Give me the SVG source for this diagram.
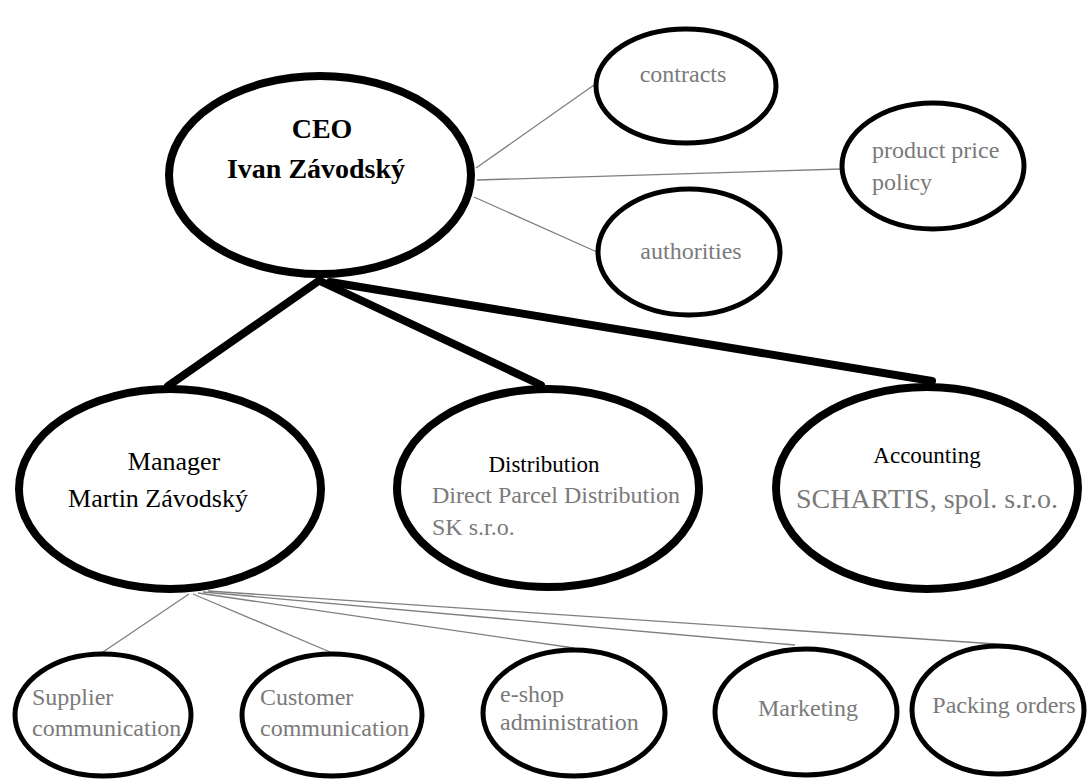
<svg xmlns="http://www.w3.org/2000/svg" width="1088" height="781" viewBox="0 0 1088 781">
<style>
.big{fill:#fff;stroke:#000;stroke-width:8}
.small{fill:#fff;stroke:#000;stroke-width:5}
.thin{stroke:#7f7f7f;stroke-width:1.3;fill:none}
.thick{stroke:#000;stroke-width:8;fill:none;stroke-linecap:round}
text{font-family:"Liberation Serif","Times New Roman",serif}
.g{fill:#7a7a7a;font-size:24px}
.k{fill:#000}
</style>
<rect width="1088" height="781" fill="#fff"/>
<g id="connectors">
<line class="thin" x1="476" y1="168" x2="594" y2="85"/>
<line class="thin" x1="477" y1="180" x2="841" y2="169"/>
<line class="thin" x1="474" y1="197" x2="597" y2="252"/>
<line class="thick" x1="320" y1="280" x2="168" y2="386"/>
<line class="thick" x1="322" y1="282" x2="541" y2="385"/>
<line class="thick" x1="330" y1="282" x2="932" y2="381"/>
<line class="thin" x1="189" y1="594" x2="100" y2="654"/>
<line class="thin" x1="193" y1="594" x2="330" y2="652"/>
<line class="thin" x1="198" y1="593" x2="574" y2="648"/>
<line class="thin" x1="203" y1="592" x2="795" y2="645"/>
<line class="thin" x1="208" y1="591" x2="996" y2="644"/>
</g>
<g id="ceo">
<ellipse class="big" cx="320" cy="175" rx="151" ry="99"/>
<text x="322" y="138" font-size="28" font-weight="bold" text-anchor="middle" class="k">CEO</text>
<text x="316" y="178" font-size="28" font-weight="bold" text-anchor="middle" class="k">Ivan Závodský</text>
</g>
<g id="contracts">
<ellipse class="small" cx="686" cy="86" rx="90" ry="57"/>
<text x="683" y="82" class="g" text-anchor="middle">contracts</text>
</g>
<g id="price-policy">
<ellipse class="small" cx="933" cy="166" rx="91" ry="63"/>
<text x="872" y="158" class="g">product price</text>
<text x="872" y="190" class="g">policy</text>
</g>
<g id="authorities">
<ellipse class="small" cx="689" cy="252" rx="91" ry="63"/>
<text x="691" y="259" class="g" text-anchor="middle">authorities</text>
</g>
<g id="manager">
<ellipse class="big" cx="170" cy="489" rx="151" ry="100"/>
<text x="174" y="470" font-size="26" text-anchor="middle" class="k">Manager</text>
<text x="158" y="507" font-size="26" text-anchor="middle" class="k">Martin Závodský</text>
</g>
<g id="distribution">
<ellipse class="big" cx="548" cy="488" rx="151" ry="99"/>
<text x="544" y="472" font-size="23" text-anchor="middle" class="k">Distribution</text>
<text x="432" y="503" class="g">Direct Parcel Distribution</text>
<text x="432" y="535" class="g">SK s.r.o.</text>
</g>
<g id="accounting">
<ellipse class="big" cx="927" cy="488" rx="151" ry="101"/>
<text x="927" y="463" font-size="23" text-anchor="middle" class="k">Accounting</text>
<text x="927" y="508" font-size="28" fill="#7a7a7a" text-anchor="middle">SCHARTIS, spol. s.r.o.</text>
</g>
<g id="supplier">
<ellipse class="small" cx="103" cy="715" rx="88" ry="61"/>
<text x="32" y="705" class="g">Supplier</text>
<text x="32" y="736" class="g">communication</text>
</g>
<g id="customer">
<ellipse class="small" cx="332" cy="715" rx="90" ry="61"/>
<text x="260" y="705" class="g">Customer</text>
<text x="260" y="736" class="g">communication</text>
</g>
<g id="eshop">
<ellipse class="small" cx="574" cy="713" rx="91" ry="63"/>
<text x="500" y="702" class="g">e-shop</text>
<text x="500" y="730" class="g">administration</text>
</g>
<g id="marketing">
<ellipse class="small" cx="806" cy="712" rx="91" ry="63"/>
<text x="808" y="716" class="g" text-anchor="middle">Marketing</text>
</g>
<g id="packing">
<ellipse class="small" cx="998" cy="710" rx="86" ry="64"/>
<text x="1004" y="713" class="g" text-anchor="middle">Packing orders</text>
</g>
</svg>
